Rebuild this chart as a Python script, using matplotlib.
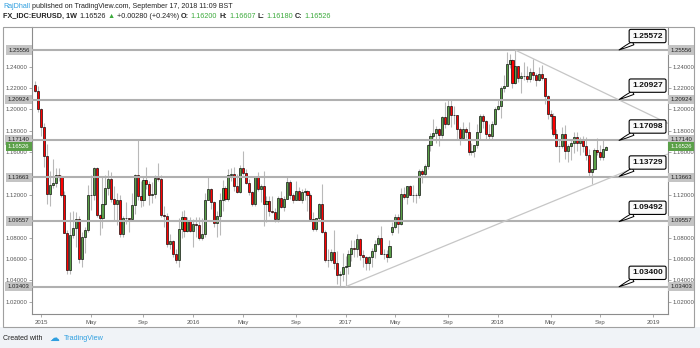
import matplotlib
matplotlib.use("Agg")
import matplotlib.pyplot as plt
import matplotlib.transforms as mtransforms
from matplotlib.patches import Rectangle
import numpy as np
import pandas as pd

plt.rcParams['font.family'] = ['Liberation Sans', 'DejaVu Sans']

# EURUSD weekly candles (open, high, low, close), week starting 2014-12-22
ohlc_2014 = [
    (1.2225, 1.2270, 1.2165, 1.2170), (1.2170, 1.2220, 1.1980, 1.2000),
]
ohlc_2015 = [
    (1.2000, 1.2010, 1.1755, 1.1840), (1.1840, 1.1870, 1.1460, 1.1565),
    (1.1565, 1.1680, 1.1115, 1.1205), (1.1205, 1.1425, 1.1100, 1.1290),
    (1.1290, 1.1535, 1.1260, 1.1315), (1.1315, 1.1450, 1.1270, 1.1390),
    (1.1390, 1.1450, 1.1330, 1.1380), (1.1380, 1.1390, 1.1180, 1.1195),
    (1.1195, 1.1240, 1.0840, 1.0845), (1.0845, 1.0870, 1.0460, 1.0495),
    (1.0495, 1.1040, 1.0460, 1.0820), (1.0820, 1.1050, 1.0800, 1.0890),
    (1.0890, 1.1035, 1.0710, 1.0975), (1.0975, 1.1000, 1.0565, 1.0600),
    (1.0600, 1.0850, 1.0520, 1.0810), (1.0810, 1.0900, 1.0660, 1.0870),
    (1.0870, 1.1290, 1.0850, 1.1200), (1.1200, 1.1390, 1.1060, 1.1200),
    (1.1200, 1.1465, 1.1150, 1.1450), (1.1450, 1.1460, 1.0990, 1.1015),
    (1.1015, 1.1020, 1.0820, 1.0985), (1.0985, 1.1380, 1.0890, 1.1110),
    (1.1110, 1.1385, 1.1105, 1.1260), (1.1260, 1.1435, 1.1195, 1.1350),
    (1.1350, 1.1410, 1.1130, 1.1165), (1.1165, 1.1280, 1.0955, 1.1110),
    (1.1110, 1.1215, 1.0915, 1.1155), (1.1155, 1.1200, 1.0810, 1.0830),
    (1.0830, 1.1000, 1.0810, 1.0985), (1.0985, 1.1130, 1.0930, 1.0980),
    (1.0980, 1.0985, 1.0850, 1.0970), (1.0970, 1.1215, 1.0960, 1.1105),
    (1.1105, 1.1400, 1.1020, 1.1385), (1.1385, 1.1715, 1.1150, 1.1185),
    (1.1185, 1.1330, 1.1085, 1.1150), (1.1150, 1.1370, 1.1100, 1.1335),
    (1.1335, 1.1460, 1.1255, 1.1300), (1.1300, 1.1330, 1.1105, 1.1195),
    (1.1195, 1.1320, 1.1125, 1.1210), (1.1210, 1.1390, 1.1175, 1.1360),
    (1.1360, 1.1495, 1.1330, 1.1350), (1.1350, 1.1390, 1.0995, 1.1015),
    (1.1015, 1.1095, 1.0895, 1.1005), (1.1005, 1.1030, 1.0710, 1.0740),
    (1.0740, 1.0830, 1.0690, 1.0770), (1.0770, 1.0780, 1.0620, 1.0645),
    (1.0645, 1.0690, 1.0560, 1.0590), (1.0590, 1.0980, 1.0525, 1.0880),
    (1.0880, 1.1045, 1.0800, 1.0990), (1.0990, 1.1060, 1.0805, 1.0865),
    (1.0865, 1.0990, 1.0850, 1.0965), (1.0965, 1.0995, 1.0850, 1.0860),
]
ohlc_2016 = [
    (1.0860, 1.0970, 1.0710, 1.0925), (1.0925, 1.0995, 1.0805, 1.0915),
    (1.0915, 1.0990, 1.0780, 1.0795), (1.0795, 1.0985, 1.0780, 1.0830),
    (1.0830, 1.1215, 1.0810, 1.1155), (1.1155, 1.1375, 1.1150, 1.1255),
    (1.1255, 1.1260, 1.1065, 1.1130), (1.1130, 1.1140, 1.0895, 1.0935),
    (1.0935, 1.1045, 1.0810, 1.1000), (1.1000, 1.1215, 1.0820, 1.1150),
    (1.1150, 1.1340, 1.1050, 1.1265), (1.1265, 1.1280, 1.1145, 1.1165),
    (1.1165, 1.1440, 1.1145, 1.1390), (1.1390, 1.1455, 1.1330, 1.1395),
    (1.1395, 1.1465, 1.1235, 1.1285), (1.1285, 1.1400, 1.1215, 1.1225),
    (1.1225, 1.1475, 1.1215, 1.1455), (1.1455, 1.1615, 1.1385, 1.1405),
    (1.1405, 1.1445, 1.1300, 1.1310), (1.1310, 1.1350, 1.1200, 1.1225),
    (1.1225, 1.1235, 1.1100, 1.1115), (1.1115, 1.1370, 1.1095, 1.1365),
    (1.1365, 1.1415, 1.1240, 1.1255), (1.1255, 1.1300, 1.1130, 1.1280),
    (1.1280, 1.1425, 1.0910, 1.1115), (1.1115, 1.1185, 1.0950, 1.1140),
    (1.1140, 1.1185, 1.1000, 1.1050), (1.1050, 1.1185, 1.1030, 1.1040),
    (1.1040, 1.1075, 1.0950, 1.0975), (1.0975, 1.1185, 1.0950, 1.1175),
    (1.1175, 1.1235, 1.1080, 1.1085), (1.1085, 1.1185, 1.1045, 1.1165),
    (1.1165, 1.1365, 1.1160, 1.1325), (1.1325, 1.1340, 1.1160, 1.1200),
    (1.1200, 1.1220, 1.1125, 1.1155), (1.1155, 1.1330, 1.1150, 1.1235),
    (1.1235, 1.1275, 1.1150, 1.1155), (1.1155, 1.1255, 1.1125, 1.1225),
    (1.1225, 1.1260, 1.1150, 1.1240), (1.1240, 1.1245, 1.1050, 1.1200),
    (1.1200, 1.1215, 1.0970, 1.0975), (1.0975, 1.1040, 1.0860, 1.0880),
    (1.0880, 1.0985, 1.0860, 1.0980), (1.0980, 1.1125, 1.0960, 1.1110),
    (1.1110, 1.1300, 1.0840, 1.0855), (1.0855, 1.0875, 1.0570, 1.0590),
    (1.0590, 1.0690, 1.0520, 1.0590), (1.0590, 1.0695, 1.0570, 1.0665),
    (1.0665, 1.0875, 1.0505, 1.0560), (1.0560, 1.0670, 1.0365, 1.0450),
    (1.0450, 1.0485, 1.0350, 1.0455), (1.0455, 1.0655, 1.0390, 1.0520),
]
ohlc_2017 = [
    (1.0520, 1.0625, 1.0340, 1.0530), (1.0530, 1.0685, 1.0455, 1.0645),
    (1.0645, 1.0775, 1.0580, 1.0705), (1.0705, 1.0775, 1.0620, 1.0695),
    (1.0695, 1.0830, 1.0620, 1.0785), (1.0785, 1.0800, 1.0590, 1.0640),
    (1.0640, 1.0680, 1.0520, 1.0615), (1.0615, 1.0630, 1.0495, 1.0560),
    (1.0560, 1.0630, 1.0495, 1.0620), (1.0620, 1.0700, 1.0525, 1.0670),
    (1.0670, 1.0780, 1.0605, 1.0740), (1.0740, 1.0825, 1.0730, 1.0800),
    (1.0800, 1.0905, 1.0650, 1.0650), (1.0650, 1.0690, 1.0595, 1.0645),
    (1.0645, 1.0680, 1.0570, 1.0615), (1.0615, 1.0780, 1.0605, 1.0725),
    (1.0850, 1.0950, 1.0820, 1.0895), (1.0895, 1.1025, 1.0880, 1.0995),
    (1.0995, 1.1020, 1.0840, 1.0930), (1.0930, 1.1265, 1.0920, 1.1205),
    (1.1205, 1.1270, 1.1160, 1.1180), (1.1180, 1.1285, 1.1110, 1.1280),
    (1.1280, 1.1295, 1.1195, 1.1195), (1.1195, 1.1295, 1.1130, 1.1200),
    (1.1200, 1.1215, 1.1120, 1.1195), (1.1195, 1.1445, 1.1175, 1.1425),
    (1.1425, 1.1445, 1.1310, 1.1400), (1.1400, 1.1490, 1.1370, 1.1470),
    (1.1470, 1.1680, 1.1440, 1.1665), (1.1665, 1.1775, 1.1610, 1.1750),
    (1.1750, 1.1910, 1.1730, 1.1775), (1.1775, 1.1845, 1.1690, 1.1820),
    (1.1820, 1.1825, 1.1660, 1.1760), (1.1760, 1.1940, 1.1735, 1.1925),
    (1.1925, 1.2070, 1.1825, 1.1860), (1.1860, 1.2090, 1.1855, 1.2035),
    (1.2035, 1.2090, 1.1840, 1.1945), (1.1945, 1.2035, 1.1860, 1.1950),
    (1.1950, 1.1950, 1.1715, 1.1815), (1.1815, 1.1835, 1.1670, 1.1730),
    (1.1730, 1.1880, 1.1730, 1.1820), (1.1820, 1.1835, 1.1730, 1.1785),
    (1.1785, 1.1880, 1.1575, 1.1605), (1.1605, 1.1690, 1.1575, 1.1610),
    (1.1610, 1.1670, 1.1555, 1.1665), (1.1665, 1.1860, 1.1640, 1.1790),
    (1.1790, 1.1960, 1.1720, 1.1935), (1.1935, 1.1960, 1.1825, 1.1895),
    (1.1895, 1.1905, 1.1715, 1.1770), (1.1770, 1.1865, 1.1715, 1.1750),
    (1.1750, 1.1895, 1.1715, 1.1860), (1.1860, 1.2025, 1.1855, 1.2005),
]
ohlc_2018 = [
    (1.2005, 1.2085, 1.1995, 1.2030), (1.2030, 1.2215, 1.1915, 1.2200),
    (1.2200, 1.2325, 1.2165, 1.2220), (1.2220, 1.2535, 1.2215, 1.2425),
    (1.2425, 1.2520, 1.2385, 1.2460), (1.2460, 1.2470, 1.2205, 1.2250),
    (1.2250, 1.2555, 1.2235, 1.2405), (1.2405, 1.2405, 1.2260, 1.2295),
    (1.2295, 1.2355, 1.2155, 1.2310), (1.2310, 1.2445, 1.2275, 1.2310),
    (1.2310, 1.2410, 1.2255, 1.2285), (1.2285, 1.2390, 1.2255, 1.2355),
    (1.2355, 1.2475, 1.2280, 1.2320), (1.2320, 1.2345, 1.2215, 1.2280),
    (1.2280, 1.2395, 1.2270, 1.2330), (1.2330, 1.2415, 1.2280, 1.2290),
    (1.2290, 1.2295, 1.2055, 1.2130), (1.2130, 1.2135, 1.1910, 1.1960),
    (1.1960, 1.1995, 1.1820, 1.1940), (1.1940, 1.1970, 1.1750, 1.1770),
    (1.1770, 1.1815, 1.1645, 1.1655), (1.1655, 1.1725, 1.1510, 1.1660),
    (1.1660, 1.1840, 1.1640, 1.1770), (1.1770, 1.1850, 1.1540, 1.1610),
    (1.1610, 1.1675, 1.1510, 1.1655), (1.1655, 1.1720, 1.1525, 1.1685),
    (1.1685, 1.1790, 1.1590, 1.1745), (1.1745, 1.1790, 1.1615, 1.1685),
    (1.1685, 1.1745, 1.1575, 1.1720), (1.1720, 1.1750, 1.1605, 1.1655),
    (1.1655, 1.1745, 1.1530, 1.1570), (1.1570, 1.1625, 1.1365, 1.1410),
    (1.1410, 1.1445, 1.1300, 1.1440), (1.1440, 1.1640, 1.1430, 1.1620),
    (1.1620, 1.1735, 1.1570, 1.1600), (1.1600, 1.1670, 1.1525, 1.1550),
    (1.1550, 1.1720, 1.1530, 1.1625), (1.16200, 1.16607, 1.16180, 1.16526),
]

# horizontal support / resistance levels and their callout prices
levels = [1.25556, 1.20924, 1.17140, 1.13663, 1.09557, 1.03403]
callouts = [1.25572, 1.20927, 1.17098, 1.13729, 1.09492, 1.03400]
last_price = 1.16526

# trend lines: (week start, price) anchors
upper_trend = [("2018-02-12", 1.2555), ("2018-10-15", 1.2094)]
lower_trend = [("2017-01-02", 1.0340), ("2018-11-19", 1.1446)]

UP, DOWN = "#5aa048", "#ff0000"
W, H = 700, 348


def fx(px):
    return px / W


def fy(py):
    return 1 - py / H


fig = plt.figure(figsize=(W / 100, H / 100), dpi=100)
fig.patch.set_facecolor("white")

# footer band and outer frame
fig.add_artist(Rectangle((0, 0), 1, fy(327), transform=fig.transFigure,
                         fc="#f0f3f7", ec="none", zorder=0))
fig.add_artist(Rectangle((fx(3), fy(327)), fx(694) - fx(3), fy(27) - fy(327),
                         transform=fig.transFigure, fill=False, ec="#a0a0a0",
                         lw=0.8, zorder=5))

ax = fig.add_axes([fx(32), fy(314), fx(668) - fx(32), fy(27) - fy(314)])

data = np.array(ohlc_2014 + ohlc_2015 + ohlc_2016 + ohlc_2017 + ohlc_2018)
o, h, l, c = data.T
idx = np.arange(len(data))
weeks = pd.date_range("2014-12-22", "2019-03-04", freq="W-MON")
week_pos = {d.strftime("%Y-%m-%d"): i for i, d in enumerate(weeks)}

colors = np.where(c >= o, UP, DOWN)
ax.vlines(idx, l, h, color="#b9b9b9", lw=0.8, zorder=2)
ax.bar(idx, c - o, bottom=o, width=0.72, color=colors,
       edgecolor="black", linewidth=0.45, zorder=3)

xmin, xmax = -1.07, 216.1
ax.set_xlim(xmin, xmax)
ax.set_ylim(1.00845, 1.27717)

for lv in levels:
    ax.axhline(lv, color="#b0b0b0", lw=1.5, zorder=4)

for (d0, p0), (d1, p1) in (upper_trend, lower_trend):
    x0, x1 = week_pos[d0], week_pos[d1]
    slope = (p1 - p0) / (x1 - x0)
    ax.plot([x0, xmax], [p0, p0 + slope * (xmax - x0)],
            color="#c6c6c6", lw=0.9, zorder=4, solid_capstyle="butt")

# callout boxes pointing at the right end of each level
tip_x = 199.4
for val in callouts:
    ax.annotate(f"{val:.5f}", xy=(tip_x, val), xytext=(20.5, 10),
                textcoords="offset points", ha="center", va="center",
                fontsize=6, fontweight="bold", color="#111",
                bbox=dict(boxstyle="round,pad=0.38,rounding_size=0.2",
                          fc="#fafafa", ec="black", lw=0.8),
                arrowprops=dict(arrowstyle="wedge,tail_width=0.45,shrink_factor=0.6",
                                fc="white", ec="black", lw=0.7,
                                shrinkA=0, shrinkB=0),
                zorder=8, annotation_clip=False)

# axes styling
for side in ("left", "right", "bottom"):
    ax.spines[side].set_color("#8c8c8c")
    ax.spines[side].set_linewidth(0.8)
ax.spines["top"].set_visible(False)

# price ticks; the ones hidden under a level tag get no label
yt = np.round(np.arange(1.02, 1.2601, 0.02), 2)
ax.set_yticks(yt)
ax.set_yticklabels(["" if min(abs(v - lv) for lv in levels) < 0.005 else f"{v:.5f}"
                    for v in yt])
ax.tick_params(axis="y", which="both", left=True, right=True,
               labelleft=True, labelright=True, direction="out",
               length=2, width=0.5, color="#888", labelsize=4.3,
               labelcolor="#555", pad=1.5)

tick_idx = [i for i, d in enumerate(weeks) if d.month in (1, 5, 9) and d.day <= 7]
tick_lab = [str(weeks[i].year) if weeks[i].month == 1 else weeks[i].strftime("%b")
            for i in tick_idx]
ax.set_xticks(tick_idx)
ax.set_xticklabels(tick_lab)
ax.tick_params(axis="x", direction="out", length=2, width=0.5, color="#888",
               labelsize=4.3, labelcolor="#555", pad=2.5)

# price tags on both axes
blend_l = mtransforms.blended_transform_factory(ax.transAxes, ax.transData)
for lv in levels + [last_price]:
    is_last = lv == last_price
    fc = UP if is_last else "#c4c4c4"
    tc = "white" if is_last else "#222"
    for xa, ha in ((-0.004, "right"), (1.004, "left")):
        ax.text(xa, lv, f"{lv:.5f}", transform=blend_l, ha=ha, va="center",
                fontsize=4.3, color=tc, clip_on=False, zorder=10,
                bbox=dict(boxstyle="square,pad=0.35", fc=fc, ec="none"))


# header and footer text
def text_row(x_px, y_px, pieces, size):
    renderer = fig.canvas.get_renderer()
    x = x_px
    for s, color, weight in pieces:
        t = fig.text(fx(x), fy(y_px), s, color=color, fontsize=size,
                     fontweight=weight, ha="left", va="center")
        x += t.get_window_extent(renderer).width + 2.0


DARK, GREEN, BLUE = "#222222", "#3caa3c", "#2f9fe0"
text_row(3, 7, [("RajDhall", BLUE, "normal"),
                ("published on TradingView.com, September 17, 2018 11:09 BST", DARK, "normal")], 5.1)
text_row(3, 16, [("FX_IDC:EURUSD, 1W", DARK, "bold"), ("1.16526", DARK, "normal"),
                 ("▲", GREEN, "normal"), ("+0.00280 (+0.24%)", DARK, "normal"),
                 ("O:", DARK, "bold"), ("1.16200", GREEN, "normal"),
                 ("H:", DARK, "bold"), ("1.16607", GREEN, "normal"),
                 ("L:", DARK, "bold"), ("1.16180", GREEN, "normal"),
                 ("C:", DARK, "bold"), ("1.16526", GREEN, "normal")], 5.2)
text_row(3, 338, [("Created with", DARK, "normal")], 5)
fig.text(fx(49), fy(338), "☁", color=BLUE, fontsize=7, family="DejaVu Sans",
         ha="left", va="center")
fig.text(fx(64), fy(338), "TradingView", color=BLUE, fontsize=5.2,
         ha="left", va="center")

fig.savefig("out.png", dpi=100)
